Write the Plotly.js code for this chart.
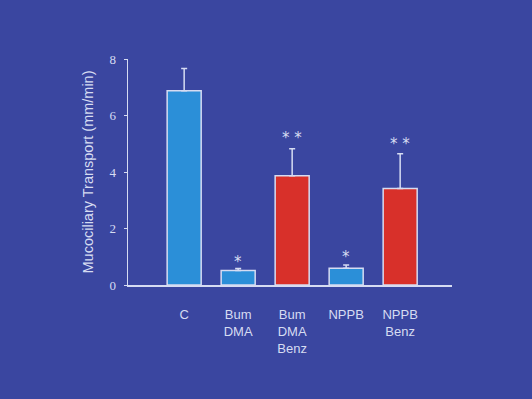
<!DOCTYPE html>
<html><head><meta charset="utf-8">
<script src="https://cdn.plot.ly/plotly-3.0.1.min.js"></script>
<style>html,body{margin:0;padding:0;background:#3a46a0;}</style>
</head><body>
<div id="chart" style="width:532px;height:399px;"></div>
<script>
var categories = ["C", "Bum<br>DMA", "Bum<br>DMA<br>Benz", "NPPB", "NPPB<br>Benz"];
var values = [6.88, 0.51, 3.87, 0.59, 3.42];
var errors = [0.78, 0.07, 0.95, 0.12, 1.23];
var barColors = ["#2b8fd8", "#2b8fd8", "#d8302a", "#2b8fd8", "#d8302a"];
var sigMarks = ["", "*", "**", "*", "**"];
var sigY = [null, 0.80, 5.20, 0.98, 4.98];
var yTicks = [0, 2, 4, 6, 8];

var xIdx = categories.map(function(_, i){ return i; });

var trace = {
  type: "bar",
  x: xIdx,
  y: values,
  marker: {color: barColors, line: {color: "#d6dcf2", width: 1.5}},
  error_y: {type: "data", array: errors, arrayminus: errors.map(function(){return 0;}), symmetric: false,
            color: "#d6dcf2", thickness: 1.5, width: 3},
  hoverinfo: "skip"
};

var annotations = [];
sigMarks.forEach(function(s, i){
  if (!s) return;
  annotations.push({x: i, y: sigY[i], xref: "x", yref: "y", text: s.split("").join(" "),
    showarrow: false, font: {family: "DejaVu Sans", size: 15, color: "#d6dcf2"}});
});

var layout = {
  width: 532, height: 399,
  paper_bgcolor: "#3a46a0", plot_bgcolor: "#3a46a0",
  margin: {l: 128, r: 80, t: 59, b: 114},
  showlegend: false,
  bargap: 0.37,
  xaxis: {
    range: [-1.04, 4.96], tickvals: xIdx, ticktext: categories,
    showgrid: false, zeroline: false, showline: true, linecolor: "#d6dcf2", linewidth: 1.5,
    ticks: "", ticklabelstandoff: 17,
    tickfont: {family: "Liberation Sans", size: 13, color: "#d6dcf2"}
  },
  yaxis: {
    range: [0, 8], tickvals: yTicks, ticktext: yTicks.map(String),
    showgrid: false, zeroline: false, showline: true, linecolor: "#d6dcf2", linewidth: 1.5,
    ticks: "outside", ticklen: 3, tickcolor: "#d6dcf2", tickwidth: 1, ticklabelstandoff: 5,
    tickfont: {family: "Liberation Serif", size: 13, color: "#d6dcf2"},
    title: {text: "Mucociliary Transport (mm/min)", standoff: 12,
            font: {family: "Liberation Sans", size: 14.5, color: "#d6dcf2"}}
  },
  annotations: annotations
};

Plotly.newPlot("chart", [trace], layout, {displayModeBar: false, staticPlot: true});
</script>
</body></html>
